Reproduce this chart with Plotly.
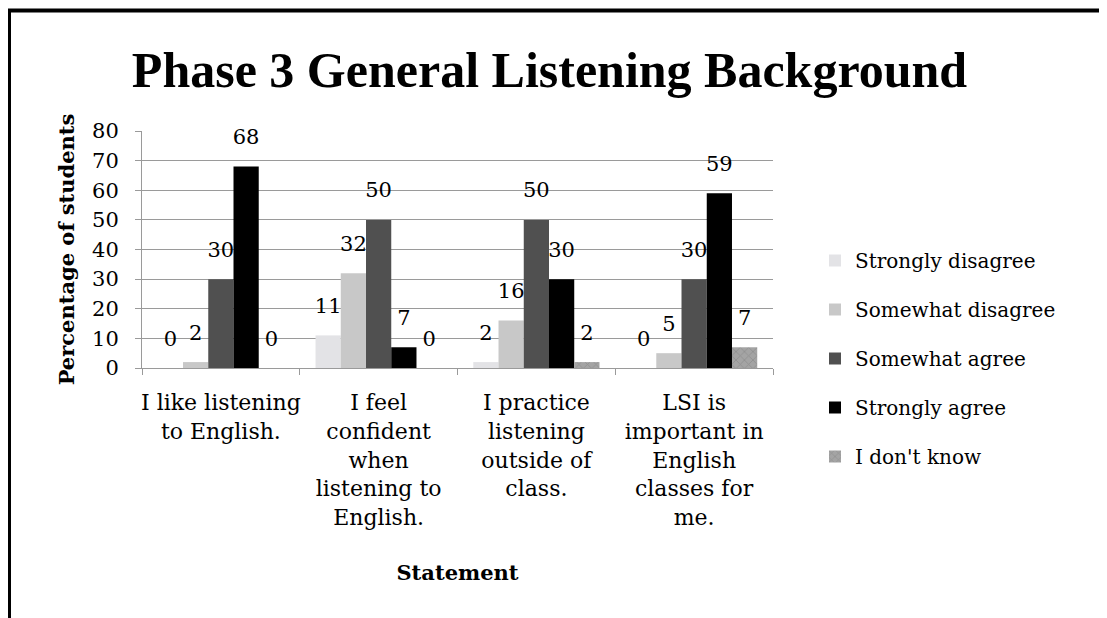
import plotly.graph_objects as go

categories = [
    "I like listening<br>to English.",
    "I feel<br>confident<br>when<br>listening to<br>English.",
    "I practice<br>listening<br>outside of<br>class.",
    "LSI is<br>important in<br>English<br>classes for<br>me.",
]
series_names = ["Strongly disagree", "Somewhat disagree", "Somewhat agree", "Strongly agree", "I don't know"]
strongly_disagree = [0, 11, 2, 0]
somewhat_disagree = [2, 32, 16, 5]
somewhat_agree = [30, 50, 50, 30]
strongly_agree = [68, 7, 30, 59]
dont_know = [0, 0, 2, 7]
y_ticks = [0, 10, 20, 30, 40, 50, 60, 70, 80]

series_values = [strongly_disagree, somewhat_disagree, somewhat_agree, strongly_agree, dont_know]
colors = ["#e3e3e6", "#c8c8c8", "#505050", "#000000", "#a4a4a4"]
patterns = ["", "", "", "", "x"]

# page offset (body margin) and figure size
OX, OY = 8, 8
W, H = 1099, 610
ML, MR, MT, MB = 60, 60, 40, 40
GW, GH = W - ML - MR, H - MT - MB
# desired plot-area edges in screenshot pixels
PX0, PX1, PY0, PY1 = 142, 773, 131, 368

def px_x(p):
    return (p - OX - ML) / GW

def px_y(p):
    return (H - MB - (p - OY)) / GH

FONT = "DejaVu Serif"
GAP = 0.2

fig = go.Figure()
for name, vals, col, pat in zip(series_names, series_values, colors, patterns):
    fig.add_trace(go.Bar(
        x=categories, y=vals, name=name, legendgroup=name,
        marker=dict(color=col, line=dict(width=0),
                    pattern=dict(shape=pat, fgcolor="#7a7a7a", bgcolor=col, size=6, solidity=0.25) if pat else None),
        hoverinfo="x+y+name",
    ))
for name, vals in zip(series_names, series_values):
    fig.add_trace(go.Scatter(
        x=categories, y=vals, mode="markers+text", text=[str(v) for v in vals],
        textposition="top center", textfont=dict(family=FONT, size=21, color="#000"),
        marker=dict(size=26, opacity=0), showlegend=False, hoverinfo="skip",
        cliponaxis=False,
    ))

fig.update_layout(
    width=W, height=H,
    margin=dict(l=ML, r=MR, t=MT, b=MB, autoexpand=False),
    paper_bgcolor="white", plot_bgcolor="white",
    barmode="group", bargap=GAP, bargroupgap=0,
    scattermode="group", scattergap=GAP,
    font=dict(family=FONT, size=21, color="#000"),
    title=dict(text="<b>Phase 3 General Listening Background</b>",
               font=dict(family="Liberation Serif", size=50, color="#000"),
               x=(549.5 - OX) / W, xanchor="center", y=1 - (69 - OY) / H, yanchor="middle"),
    legend=dict(x=px_x(815), xanchor="left", y=px_y(241), yanchor="top",
                font=dict(family=FONT, size=20, color="#000"),
                tracegroupgap=20, bgcolor="rgba(0,0,0,0)"),
    xaxis=dict(domain=[px_x(PX0), px_x(PX1)],
               showline=True, linecolor="#9a9a9a", linewidth=1,
               ticks="outside", tickson="boundaries", ticklen=6, tickcolor="#9a9a9a",
               tickangle=0,
               tickfont=dict(family=FONT, size=22), ticklabelstandoff=15,
               title=dict(text="<b>Statement</b>", font=dict(family=FONT, size=21), standoff=36)),
    yaxis=dict(domain=[px_y(PY1), px_y(PY0)],
               range=[0, 80], tickvals=y_ticks, showline=True, linecolor="#9a9a9a", linewidth=1,
               ticks="outside", ticklen=6, tickcolor="#9a9a9a",
               showgrid=True, gridcolor="#9a9a9a", gridwidth=1, zeroline=False,
               tickfont=dict(family=FONT, size=21), ticklabelstandoff=12,
               title=dict(text="<b>Percentage of students</b>", font=dict(family=FONT, size=21), standoff=11)),
    showlegend=True,
)

fig.add_shape(type="rect", xref="paper", yref="paper",
              x0=px_x(9), x1=px_x(W + 40), y0=px_y(H + 40), y1=px_y(10.5),
              line=dict(color="#000", width=4), fillcolor="rgba(0,0,0,0)", layer="above")

fig.write_html("out.html")
